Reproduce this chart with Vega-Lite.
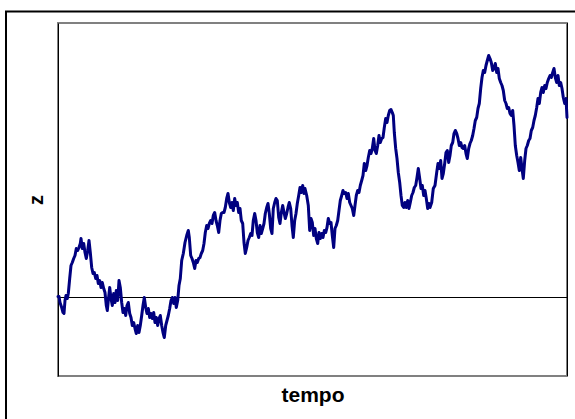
{
  "$schema": "https://vega.github.io/schema/vega-lite/v6.json",
  "width": 509,
  "height": 353,
  "autosize": {"type": "none"},
  "padding": {"left": 58, "top": 23, "right": 8, "bottom": 43},
  "background": "white",
  "config": {
    "view": {"stroke": "#808080", "strokeWidth": 2},
    "font": "Liberation Sans"
  },
  "datasets": {
    "walk": [
      {"t": 0, "z": 1}, {"t": 1, "z": 1}, {"t": 2, "z": -5}, {"t": 3.7, "z": -10}, {"t": 5, "z": -15},
      {"t": 6, "z": -16}, {"t": 7, "z": -3}, {"t": 8, "z": 2}, {"t": 9.3, "z": -1}, {"t": 10.3, "z": 4},
      {"t": 11.7, "z": 19}, {"t": 13, "z": 32}, {"t": 14.3, "z": 35}, {"t": 15.7, "z": 39}, {"t": 17, "z": 42},
      {"t": 18.3, "z": 49}, {"t": 19.7, "z": 47}, {"t": 21, "z": 50}, {"t": 22.3, "z": 54}, {"t": 23, "z": 59},
      {"t": 24.3, "z": 49}, {"t": 25.7, "z": 54}, {"t": 27, "z": 45}, {"t": 28.3, "z": 39}, {"t": 29.7, "z": 47},
      {"t": 31, "z": 57}, {"t": 32.3, "z": 45}, {"t": 33.7, "z": 30}, {"t": 35, "z": 24}, {"t": 36.3, "z": 25},
      {"t": 37.7, "z": 19}, {"t": 39, "z": 22}, {"t": 40.3, "z": 14}, {"t": 41.7, "z": 17}, {"t": 43, "z": 10},
      {"t": 44.3, "z": 15}, {"t": 45.7, "z": 9}, {"t": 47, "z": 5}, {"t": 48.3, "z": -8}, {"t": 49.3, "z": -13},
      {"t": 50.3, "z": -3}, {"t": 51.7, "z": 10}, {"t": 53, "z": -1}, {"t": 54.3, "z": -8}, {"t": 55.7, "z": 4},
      {"t": 57, "z": -5}, {"t": 58.3, "z": 7}, {"t": 59.7, "z": -3}, {"t": 61, "z": 17}, {"t": 62.3, "z": 10},
      {"t": 63.7, "z": -5}, {"t": 65, "z": -15}, {"t": 66.3, "z": -11}, {"t": 67.7, "z": -18}, {"t": 69, "z": -8},
      {"t": 70.3, "z": -5}, {"t": 71.7, "z": -16}, {"t": 73, "z": -20}, {"t": 74.3, "z": -28}, {"t": 75.7, "z": -25},
      {"t": 77, "z": -31}, {"t": 78.3, "z": -36}, {"t": 79.7, "z": -28}, {"t": 81, "z": -35}, {"t": 82.3, "z": -28},
      {"t": 83.7, "z": -18}, {"t": 85, "z": -8}, {"t": 86.3, "z": 0}, {"t": 87.7, "z": -10}, {"t": 89, "z": -16},
      {"t": 90.3, "z": -11}, {"t": 91.7, "z": -20}, {"t": 93, "z": -16}, {"t": 94.3, "z": -21}, {"t": 95.7, "z": -15},
      {"t": 97, "z": -25}, {"t": 98.3, "z": -20}, {"t": 99.7, "z": -28}, {"t": 101, "z": -21}, {"t": 102.3, "z": -18},
      {"t": 103.7, "z": -28}, {"t": 105, "z": -35}, {"t": 106.3, "z": -40}, {"t": 107.7, "z": -28}, {"t": 109, "z": -23},
      {"t": 110.3, "z": -18}, {"t": 111.7, "z": -11}, {"t": 113, "z": -3}, {"t": 114.3, "z": 0}, {"t": 115.7, "z": -6},
      {"t": 117, "z": 0}, {"t": 118.3, "z": -10}, {"t": 119.7, "z": -3}, {"t": 121, "z": 12}, {"t": 122.3, "z": 19},
      {"t": 123.7, "z": 37}, {"t": 125.3, "z": 44}, {"t": 127, "z": 55}, {"t": 128.7, "z": 62}, {"t": 130.3, "z": 67},
      {"t": 131.3, "z": 60}, {"t": 132.7, "z": 42}, {"t": 134, "z": 39}, {"t": 135.3, "z": 35}, {"t": 136.7, "z": 29},
      {"t": 138, "z": 37}, {"t": 139.3, "z": 35}, {"t": 140.7, "z": 39}, {"t": 142, "z": 40}, {"t": 143.3, "z": 44},
      {"t": 144.7, "z": 47}, {"t": 146, "z": 54}, {"t": 147.3, "z": 65}, {"t": 148.7, "z": 72}, {"t": 150, "z": 69},
      {"t": 151.3, "z": 74}, {"t": 152.7, "z": 77}, {"t": 154, "z": 74}, {"t": 155.3, "z": 82}, {"t": 156.7, "z": 85},
      {"t": 158, "z": 77}, {"t": 159.3, "z": 72}, {"t": 160.7, "z": 65}, {"t": 162, "z": 77}, {"t": 163.3, "z": 84},
      {"t": 164.7, "z": 85}, {"t": 166, "z": 85}, {"t": 167.3, "z": 90}, {"t": 168.7, "z": 99}, {"t": 170, "z": 104},
      {"t": 171.3, "z": 95}, {"t": 172.7, "z": 90}, {"t": 174, "z": 95}, {"t": 175.3, "z": 87}, {"t": 176.7, "z": 99},
      {"t": 178, "z": 92}, {"t": 179.3, "z": 95}, {"t": 180.7, "z": 85}, {"t": 182, "z": 89}, {"t": 183.3, "z": 77},
      {"t": 184.7, "z": 74}, {"t": 186, "z": 55}, {"t": 187.3, "z": 44}, {"t": 188.7, "z": 50}, {"t": 190, "z": 57},
      {"t": 191.3, "z": 60}, {"t": 192.7, "z": 64}, {"t": 194, "z": 62}, {"t": 195.3, "z": 77}, {"t": 196.7, "z": 84},
      {"t": 198, "z": 77}, {"t": 199.3, "z": 65}, {"t": 200.7, "z": 60}, {"t": 202, "z": 72}, {"t": 203.3, "z": 64},
      {"t": 204.7, "z": 69}, {"t": 206, "z": 74}, {"t": 207.3, "z": 84}, {"t": 208.7, "z": 90}, {"t": 210, "z": 94},
      {"t": 211.3, "z": 84}, {"t": 212.7, "z": 69}, {"t": 214, "z": 64}, {"t": 215.3, "z": 89}, {"t": 216.7, "z": 95},
      {"t": 218, "z": 99}, {"t": 219.3, "z": 97}, {"t": 220.7, "z": 80}, {"t": 222, "z": 74}, {"t": 223.3, "z": 85},
      {"t": 224.7, "z": 92}, {"t": 226, "z": 85}, {"t": 227.3, "z": 79}, {"t": 228.7, "z": 84}, {"t": 230, "z": 90},
      {"t": 231.3, "z": 95}, {"t": 232.7, "z": 89}, {"t": 234, "z": 72}, {"t": 235.3, "z": 60}, {"t": 236.7, "z": 77},
      {"t": 238, "z": 84}, {"t": 239.3, "z": 94}, {"t": 240.7, "z": 102}, {"t": 242, "z": 110}, {"t": 243.3, "z": 105},
      {"t": 244.7, "z": 112}, {"t": 246, "z": 104}, {"t": 247, "z": 109}, {"t": 248.7, "z": 102}, {"t": 250.3, "z": 92},
      {"t": 251.7, "z": 67}, {"t": 253, "z": 79}, {"t": 254.3, "z": 75}, {"t": 255.7, "z": 62}, {"t": 257, "z": 69},
      {"t": 258.3, "z": 59}, {"t": 259.7, "z": 54}, {"t": 261, "z": 65}, {"t": 262.3, "z": 59}, {"t": 263.7, "z": 64},
      {"t": 265, "z": 60}, {"t": 266.3, "z": 67}, {"t": 267.7, "z": 65}, {"t": 269, "z": 70}, {"t": 270.3, "z": 79},
      {"t": 271.7, "z": 74}, {"t": 273, "z": 75}, {"t": 274.3, "z": 62}, {"t": 275.7, "z": 50}, {"t": 277, "z": 69},
      {"t": 278.3, "z": 72}, {"t": 279.7, "z": 77}, {"t": 281, "z": 87}, {"t": 282.3, "z": 97}, {"t": 283.7, "z": 102},
      {"t": 285, "z": 107}, {"t": 286.3, "z": 104}, {"t": 287.7, "z": 105}, {"t": 289, "z": 99}, {"t": 290.3, "z": 104},
      {"t": 291.7, "z": 95}, {"t": 293, "z": 92}, {"t": 294.3, "z": 89}, {"t": 295.7, "z": 82}, {"t": 297, "z": 92},
      {"t": 298.3, "z": 102}, {"t": 299.7, "z": 107}, {"t": 301, "z": 105}, {"t": 302.3, "z": 112}, {"t": 303.7, "z": 117},
      {"t": 305, "z": 122}, {"t": 306.3, "z": 134}, {"t": 307.7, "z": 127}, {"t": 309, "z": 132}, {"t": 310.3, "z": 140},
      {"t": 311.7, "z": 147}, {"t": 313, "z": 144}, {"t": 314.3, "z": 149}, {"t": 315.7, "z": 159}, {"t": 317, "z": 147},
      {"t": 318.3, "z": 144}, {"t": 319.7, "z": 152}, {"t": 321, "z": 162}, {"t": 322.3, "z": 155}, {"t": 323.7, "z": 159},
      {"t": 325, "z": 160}, {"t": 326.3, "z": 170}, {"t": 327.7, "z": 179}, {"t": 329, "z": 175}, {"t": 330.3, "z": 182},
      {"t": 331.7, "z": 187}, {"t": 333, "z": 188}, {"t": 334.3, "z": 185}, {"t": 335.3, "z": 182}, {"t": 336.3, "z": 165},
      {"t": 337.7, "z": 149}, {"t": 339, "z": 139}, {"t": 340.3, "z": 125}, {"t": 341.7, "z": 115}, {"t": 343, "z": 102},
      {"t": 344.3, "z": 92}, {"t": 345.7, "z": 90}, {"t": 347, "z": 95}, {"t": 348.3, "z": 90}, {"t": 349.7, "z": 97},
      {"t": 351, "z": 89}, {"t": 352.3, "z": 95}, {"t": 353.7, "z": 102}, {"t": 355, "z": 105}, {"t": 356.3, "z": 110},
      {"t": 357.7, "z": 112}, {"t": 359, "z": 120}, {"t": 360.3, "z": 129}, {"t": 361.7, "z": 119}, {"t": 363, "z": 109},
      {"t": 364.3, "z": 112}, {"t": 365.7, "z": 102}, {"t": 367, "z": 107}, {"t": 368.3, "z": 99}, {"t": 369.7, "z": 89},
      {"t": 371, "z": 94}, {"t": 372, "z": 90}, {"t": 373.7, "z": 95}, {"t": 375.3, "z": 109}, {"t": 377, "z": 112},
      {"t": 378.7, "z": 125}, {"t": 380, "z": 134}, {"t": 381.3, "z": 129}, {"t": 382.7, "z": 137}, {"t": 384, "z": 119},
      {"t": 385.3, "z": 124}, {"t": 386.7, "z": 134}, {"t": 388, "z": 145}, {"t": 389.3, "z": 147}, {"t": 390.7, "z": 135},
      {"t": 392, "z": 142}, {"t": 393.3, "z": 152}, {"t": 394.7, "z": 155}, {"t": 396, "z": 164}, {"t": 397.3, "z": 167},
      {"t": 398.7, "z": 164}, {"t": 400, "z": 159}, {"t": 401.3, "z": 152}, {"t": 402.7, "z": 155}, {"t": 404, "z": 150},
      {"t": 405.3, "z": 149}, {"t": 406.7, "z": 152}, {"t": 408, "z": 144}, {"t": 409.3, "z": 139}, {"t": 410.7, "z": 149},
      {"t": 412, "z": 154}, {"t": 413.3, "z": 157}, {"t": 414.7, "z": 162}, {"t": 416, "z": 169}, {"t": 417.3, "z": 177},
      {"t": 418.7, "z": 180}, {"t": 420, "z": 189}, {"t": 421.3, "z": 194}, {"t": 422.7, "z": 209}, {"t": 424, "z": 220},
      {"t": 425.3, "z": 227}, {"t": 426.7, "z": 225}, {"t": 428, "z": 232}, {"t": 429.3, "z": 237}, {"t": 430.7, "z": 242},
      {"t": 432, "z": 239}, {"t": 433.3, "z": 235}, {"t": 434.7, "z": 227}, {"t": 436, "z": 229}, {"t": 437.3, "z": 234},
      {"t": 438.7, "z": 225}, {"t": 440, "z": 229}, {"t": 441.3, "z": 219}, {"t": 442.7, "z": 215}, {"t": 444, "z": 212},
      {"t": 445.3, "z": 207}, {"t": 446.7, "z": 197}, {"t": 448, "z": 194}, {"t": 449.3, "z": 189}, {"t": 450.7, "z": 190},
      {"t": 452, "z": 184}, {"t": 453.3, "z": 182}, {"t": 454.7, "z": 187}, {"t": 456, "z": 172}, {"t": 457.3, "z": 152},
      {"t": 458.7, "z": 142}, {"t": 460, "z": 135}, {"t": 461.3, "z": 127}, {"t": 462.7, "z": 140}, {"t": 464, "z": 129},
      {"t": 465.3, "z": 119}, {"t": 466.7, "z": 137}, {"t": 468, "z": 149}, {"t": 469.3, "z": 152}, {"t": 470.7, "z": 157},
      {"t": 472, "z": 159}, {"t": 473.3, "z": 167}, {"t": 474.7, "z": 170}, {"t": 476, "z": 177}, {"t": 477.3, "z": 182},
      {"t": 478.7, "z": 190}, {"t": 480, "z": 199}, {"t": 481.3, "z": 194}, {"t": 482.7, "z": 205}, {"t": 484, "z": 210},
      {"t": 485.3, "z": 205}, {"t": 486.7, "z": 212}, {"t": 488, "z": 209}, {"t": 489.3, "z": 215}, {"t": 490.7, "z": 219},
      {"t": 492, "z": 222}, {"t": 493.3, "z": 220}, {"t": 494.7, "z": 225}, {"t": 496, "z": 229}, {"t": 497.3, "z": 220},
      {"t": 498.7, "z": 215}, {"t": 500, "z": 222}, {"t": 501.3, "z": 212}, {"t": 502.7, "z": 215}, {"t": 504, "z": 209},
      {"t": 505.3, "z": 200}, {"t": 506.7, "z": 194}, {"t": 508, "z": 199}, {"t": 509, "z": 180}
    ]
  },
  "layer": [
    {
      "description": "outer chart frame, open past the right and bottom edges",
      "data": {"values": [{}]},
      "mark": {"type": "rect", "filled": false, "stroke": "black", "strokeWidth": 2, "clip": false},
      "encoding": {
        "x": {"datum": -52, "type": "quantitative"},
        "x2": {"datum": 540},
        "y": {"datum": 286, "type": "quantitative"},
        "y2": {"datum": -150}
      }
    },
    {
      "description": "horizontal axis at z = 0",
      "data": {"values": [{}]},
      "mark": {"type": "rule", "color": "black", "strokeWidth": 1},
      "encoding": {
        "y": {"datum": 0, "type": "quantitative"}
      }
    },
    {
      "description": "right edge of the plot area",
      "data": {"values": [{}]},
      "mark": {"type": "rule", "color": "black", "strokeWidth": 1},
      "encoding": {
        "x": {"datum": 509.5, "type": "quantitative"}
      }
    },
    {
      "data": {"name": "walk"},
      "mark": {"type": "line", "color": "#000080", "strokeWidth": 3, "strokeJoin": "round", "strokeCap": "round"},
      "encoding": {
        "x": {
          "field": "t",
          "type": "quantitative",
          "scale": {"domain": [0, 509], "nice": false, "zero": false},
          "axis": {
            "title": "tempo",
            "domain": false, "ticks": false, "labels": false, "grid": false,
            "titleFont": "Liberation Sans", "titleFontSize": 21, "titleFontWeight": "bold",
            "titleColor": "black", "titlePadding": 8
          }
        },
        "y": {
          "field": "z",
          "type": "quantitative",
          "scale": {"domain": [-78.5, 274.5], "nice": false, "zero": false},
          "axis": {
            "title": "z",
            "domain": true, "domainColor": "black", "domainWidth": 1,
            "ticks": false, "labels": false, "grid": false,
            "titleFont": "Liberation Sans", "titleFontSize": 20, "titleFontWeight": "bold",
            "titleColor": "black", "titlePadding": 12
          }
        }
      }
    }
  ]
}
